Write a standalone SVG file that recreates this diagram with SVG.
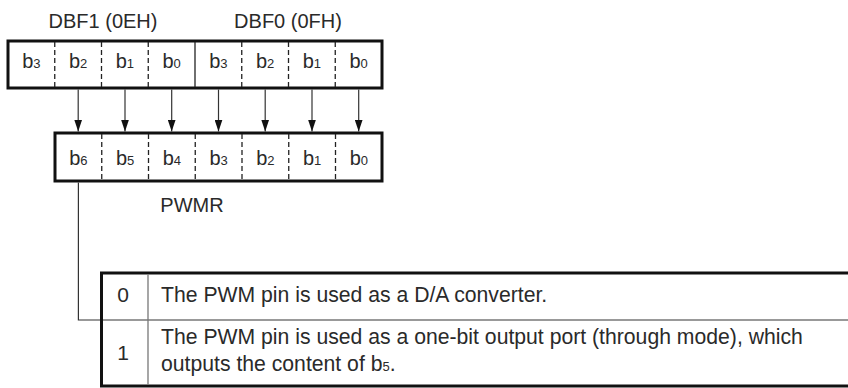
<svg xmlns="http://www.w3.org/2000/svg" width="848" height="388" viewBox="0 0 848 388">
  <style>
    text { font-family: "Liberation Sans", Arial, sans-serif; fill: #2a2a2a; }
    .lbl { font-size: 20px; }
    .bit { font-size: 20px; text-anchor: middle; }
    .sub { font-size: 13px; }
    .tt { font-size: 21.2px; }
    .num { font-size: 21px; text-anchor: middle; }
    .frame { fill: #fff; stroke: #111; stroke-width: 3; }
    .dash { stroke: #222; stroke-width: 1.3; stroke-dasharray: 5 3; }
    .solid { stroke: #222; stroke-width: 1.3; }
    .conn { stroke: #333; stroke-width: 1.2; fill: none; }
    .grid { stroke: #777; stroke-width: 1.3; }
  </style>
  <defs>
    <marker id="arr" viewBox="0 -4 12 8" refX="12" refY="0" markerWidth="12" markerHeight="8" markerUnits="userSpaceOnUse" orient="auto">
      <path d="M0,-4 L12,0 L0,4 z" fill="#111"/>
    </marker>
  </defs>

  <g id="labels">
    <text class="lbl" x="103" y="28" text-anchor="middle">DBF1 (0EH)</text>
    <text class="lbl" x="288" y="28" text-anchor="middle">DBF0 (0FH)</text>
    <text class="lbl" x="192" y="212" text-anchor="middle">PWMR</text>
  </g>

  <g id="reg-dbf">
    <rect class="frame" x="8" y="41" width="374" height="47"/>
    <line class="dash" x1="54.75" y1="42" x2="54.75" y2="87"/>
    <line class="dash" x1="101.5" y1="42" x2="101.5" y2="87"/>
    <line class="dash" x1="148.25" y1="42" x2="148.25" y2="87"/>
    <line class="solid" x1="195" y1="42" x2="195" y2="87"/>
    <line class="dash" x1="241.75" y1="42" x2="241.75" y2="87"/>
    <line class="dash" x1="288.5" y1="42" x2="288.5" y2="87"/>
    <line class="dash" x1="335.25" y1="42" x2="335.25" y2="87"/>
    <text class="bit" x="31.4" y="68">b<tspan class="sub">3</tspan></text>
    <text class="bit" x="78.1" y="68">b<tspan class="sub">2</tspan></text>
    <text class="bit" x="124.9" y="68">b<tspan class="sub">1</tspan></text>
    <text class="bit" x="171.6" y="68">b<tspan class="sub">0</tspan></text>
    <text class="bit" x="218.4" y="68">b<tspan class="sub">3</tspan></text>
    <text class="bit" x="265.1" y="68">b<tspan class="sub">2</tspan></text>
    <text class="bit" x="311.9" y="68">b<tspan class="sub">1</tspan></text>
    <text class="bit" x="358.6" y="68">b<tspan class="sub">0</tspan></text>
  </g>

  <g id="reg-pwmr">
    <rect class="frame" x="55" y="133" width="327" height="48"/>
    <line class="dash" x1="101.75" y1="134" x2="101.75" y2="180"/>
    <line class="dash" x1="148.5" y1="134" x2="148.5" y2="180"/>
    <line class="dash" x1="195.25" y1="134" x2="195.25" y2="180"/>
    <line class="dash" x1="242" y1="134" x2="242" y2="180"/>
    <line class="dash" x1="288.75" y1="134" x2="288.75" y2="180"/>
    <line class="dash" x1="335.5" y1="134" x2="335.5" y2="180"/>
    <text class="bit" x="78.4" y="165">b<tspan class="sub">6</tspan></text>
    <text class="bit" x="125.1" y="165">b<tspan class="sub">5</tspan></text>
    <text class="bit" x="171.9" y="165">b<tspan class="sub">4</tspan></text>
    <text class="bit" x="218.6" y="165">b<tspan class="sub">3</tspan></text>
    <text class="bit" x="265.4" y="165">b<tspan class="sub">2</tspan></text>
    <text class="bit" x="312.1" y="165">b<tspan class="sub">1</tspan></text>
    <text class="bit" x="358.9" y="165">b<tspan class="sub">0</tspan></text>
  </g>

  <g id="connectors">
    <line class="conn" x1="78.2" y1="89.5" x2="78.2" y2="131.5" marker-end="url(#arr)"/>
    <line class="conn" x1="125" y1="89.5" x2="125" y2="131.5" marker-end="url(#arr)"/>
    <line class="conn" x1="171.7" y1="89.5" x2="171.7" y2="131.5" marker-end="url(#arr)"/>
    <line class="conn" x1="218.5" y1="89.5" x2="218.5" y2="131.5" marker-end="url(#arr)"/>
    <line class="conn" x1="265.2" y1="89.5" x2="265.2" y2="131.5" marker-end="url(#arr)"/>
    <line class="conn" x1="312" y1="89.5" x2="312" y2="131.5" marker-end="url(#arr)"/>
    <line class="conn" x1="358.7" y1="89.5" x2="358.7" y2="131.5" marker-end="url(#arr)"/>
    <polyline class="conn" points="78.4,182.5 78.4,320 102,320"/>
  </g>

  <g id="table">
    <rect class="frame" x="101.5" y="273" width="760" height="113"/>
    <line class="grid" x1="103" y1="320" x2="848" y2="320"/>
    <line class="grid" x1="148" y1="274.5" x2="148" y2="384.5"/>
    <text class="num" x="123" y="302">0</text>
    <text class="tt" x="161" y="302">The PWM pin is used as a D/A converter.</text>
    <text class="num" x="123" y="360">1</text>
    <text class="tt" x="161" y="344">The PWM pin is used as a one-bit output port (through mode), which</text>
    <text class="tt" x="161" y="371">outputs the content of b<tspan class="sub">5</tspan>.</text>
  </g>
</svg>
